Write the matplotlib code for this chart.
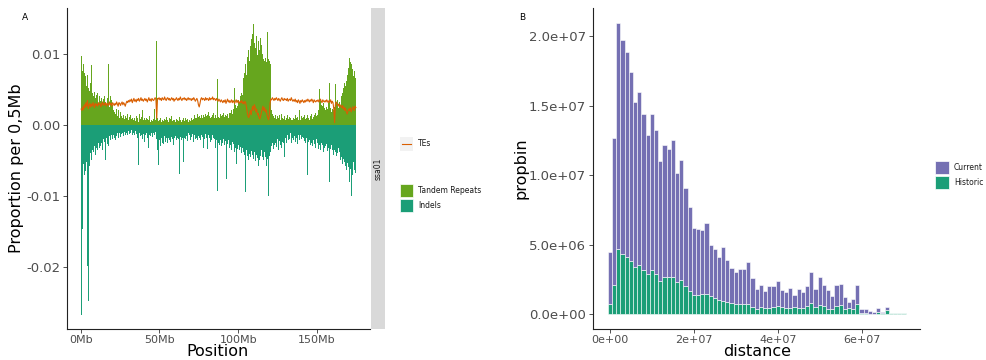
import numpy as np
import matplotlib
matplotlib.use('Agg')
import matplotlib.pyplot as plt
from matplotlib.patches import Rectangle
from matplotlib.lines import Line2D

W, H = 987, 360

# ---- panel A: proportion per 0.5Mb bin on ssa01 (units of 1e-4) ----
tandem = [
    97, 66, 76, 86, 72, 60, 68, 55, 70, 52,
    62, 48, 58, 84, 45, 50, 40, 46, 38, 42,
    35, 44, 30, 40, 47, 33, 38, 30, 36, 28,
    41, 32, 26, 38, 30, 85, 25, 40, 22, 35,
    28, 20, 18, 25, 15, 22, 12, 20, 16, 10,
    18, 12, 22, 9, 14, 8, 12, 6, 10, 15,
    7, 11, 5, 13, 8, 10, 6, 14, 9, 5,
    12, 7, 10, 4, 15, 8, 6, 11, 20, 7,
    9, 13, 6, 10, 8, 5, 7, 12, 4, 6,
    9, 5, 8, 22, 6, 7, 118, 10, 5, 8,
    6, 9, 4, 7, 10, 5, 8, 6, 11, 5,
    7, 4, 9, 6, 8, 12, 5, 7, 10, 6,
    4, 8, 6, 9, 5, 11, 7, 4, 8, 6,
    10, 5, 7, 9, 6, 8, 4, 12, 7, 5,
    9, 6, 11, 8, 14, 10, 13, 9, 15, 11,
    12, 16, 9, 14, 10, 13, 17, 11, 15, 12,
    10, 14, 18, 12, 9, 15, 11, 13, 16, 10,
    12, 14, 9, 64, 11, 13, 10, 15, 12, 9,
    14, 16, 11, 13, 18, 12, 15, 10, 17, 14,
    16, 20, 15, 25, 22, 52, 28, 24, 30, 27,
    35, 32, 40, 38, 45, 42, 66, 78, 72, 85,
    70, 95, 80, 105, 90, 110, 120, 100, 128, 141,
    115, 130, 108, 125, 98, 118, 135, 105, 122, 112,
    100, 95, 92, 90, 94, 88, 91, 130, 93, 89,
    92, 85, 20, 15, 12, 18, 10, 14, 8, 12,
    16, 9, 13, 7, 11, 15, 10, 8, 12, 14,
    6, 10, 13, 8, 5, 11, 9, 7, 12, 6,
    10, 8, 14, 5, 9, 11, 7, 20, 8, 6,
    12, 9, 7, 11, 13, 8, 10, 6, 14, 9,
    7, 12, 10, 15, 8, 11, 13, 9, 16, 12,
    14, 18, 20, 50, 35, 28, 22, 26, 30, 24,
    20, 28, 25, 22, 30, 26, 59, 24, 18, 22,
    142, 20, 25, 57, 30, 28, 35, 24, 32, 38,
    27, 40, 45, 52, 48, 58, 55, 62, 70, 75,
    80, 94, 88, 85, 72, 78, 68, 76, 70, 66,
]
indels = [
    268, 60, 146, 55, 70, 48, 65, 52, 198, 247,
    45, 58, 40, 50, 35, 44, 38, 30, 42, 33,
    28, 36, 25, 32, 22, 30, 26, 35, 20, 28,
    24, 50, 18, 27, 22, 30, 16, 21, 19, 14,
    20, 15, 18, 13, 22, 16, 12, 19, 15, 11,
    17, 13, 20, 12, 16, 10, 14, 18, 11, 15,
    9, 13, 16, 11, 8, 14, 12, 10, 15, 9,
    13, 11, 18, 57, 12, 16, 10, 14, 20, 13,
    24, 27, 15, 12, 18, 10, 32, 14, 16, 11,
    13, 17, 12, 15, 10, 14, 20, 35, 57, 28,
    22, 30, 18, 25, 20, 27, 16, 24, 19, 22,
    26, 18, 21, 15, 24, 17, 20, 28, 14, 19,
    16, 22, 18, 25, 20, 69, 17, 21, 15, 19,
    53, 18, 14, 20, 16, 23, 12, 18, 15, 21,
    17, 13, 19, 24, 15, 20, 14, 18, 22, 16,
    19, 15, 21, 14, 17, 32, 16, 20, 13, 18,
    22, 34, 15, 19, 24, 16, 21, 14, 18, 20,
    17, 32, 22, 93, 25, 19, 28, 21, 30, 24,
    26, 20, 29, 23, 31, 76, 27, 22, 33, 25,
    28, 35, 24, 30, 27, 38, 32, 55, 26, 34,
    29, 36, 31, 27, 40, 33, 38, 30, 42, 95,
    35, 44, 38, 50, 41, 46, 37, 52, 43, 48,
    39, 45, 51, 42, 47, 58, 40, 49, 44, 36,
    46, 41, 50, 38, 45, 58, 42, 48, 100, 44,
    84, 39, 30, 26, 34, 22, 29, 25, 31, 20,
    27, 35, 23, 28, 19, 32, 24, 26, 45, 21,
    18, 25, 14, 22, 17, 20, 12, 26, 15, 19,
    21, 16, 24, 13, 19, 27, 15, 22, 18, 14,
    20, 17, 25, 19, 23, 26, 18, 21, 71, 24,
    22, 28, 19, 25, 30, 21, 27, 24, 32, 20,
    26, 23, 34, 29, 36, 25, 31, 28, 38, 33,
    30, 35, 27, 37, 32, 40, 81, 34, 29, 36,
    31, 42, 35, 38, 44, 36, 40, 33, 39, 46,
    50, 45, 55, 48, 60, 52, 58, 63, 54, 66,
    59, 81, 62, 100, 57, 70, 52, 64, 48, 68,
]
tes = [
    22, 20, 25, 21, 28, 24, 31, 26, 34, 23,
    27, 30, 25, 29, 26, 31, 28, 24, 30, 27,
    29, 26, 31, 28, 30, 25, 29, 32, 27, 30,
    28, 31, 26, 30, 29, 27, 32, 28, 30, 26,
    31, 29, 27, 30, 28, 32, 29, 26, 31, 30,
    27, 30, 32, 28, 31, 29, 26, 30, 33, 31,
    34, 32, 35, 33, 36, 31, 34, 37, 33, 35,
    32, 36, 34, 37, 33, 35, 38, 34, 36, 33,
    35, 37, 34, 36, 32, 35, 38, 34, 36, 33,
    37, 35, 34, 36, 38, 35, 9, 37, 36, 38,
    35, 37, 34, 38, 36, 35, 39, 36, 34, 37,
    38, 35, 37, 34, 36, 38, 35, 37, 33, 36,
    35, 38, 36, 34, 37, 35, 39, 36, 34, 37,
    36, 38, 35, 37, 34, 36, 38, 35, 37, 36,
    34, 37, 35, 38, 36, 33, 35, 37, 34, 28,
    25, 30, 36, 38, 35, 37, 36, 34, 38, 35,
    37, 36, 34, 38, 35, 37, 36, 39, 35, 37,
    36, 34, 37, 35, 33, 36, 34, 32, 35, 33,
    31, 34, 32, 35, 30, 33, 36, 32, 34, 31,
    33, 35, 31, 34, 32, 30, 33, 35, 31, 34,
    32, 30, 33, 31, 34, 30, 32, 29, 33, 31,
    24, 18, 12, 10, 15, 20, 14, 22, 26, 20,
    28, 25, 18, 22, 14, 16, 10, 8, 12, 17,
    22, 26, 20, 24, 18, 21, 15, 10, 7, 12,
    30, 36, 35, 38, 36, 34, 37, 35, 38, 36,
    34, 37, 35, 33, 36, 38, 35, 34, 37, 35,
    36, 34, 37, 33, 35, 36, 34, 38, 35, 33,
    35, 33, 36, 32, 34, 31, 35, 33, 30, 34,
    32, 35, 33, 31, 34, 32, 35, 33, 36, 34,
    32, 35, 33, 36, 34, 31, 35, 33, 32, 34,
    33, 35, 32, 34, 36, 33, 31, 35, 33, 32,
    34, 32, 35, 33, 31, 34, 32, 35, 30, 33,
    31, 22, 3, 28, 32, 30, 27, 29, 25, 28,
    26, 24, 27, 22, 25, 20, 23, 18, 15, 19,
    22, 20, 24, 18, 21, 25, 23, 20, 26, 24,
]

# ---- panel B: distance bins of 1e6 (units of 1e6) ----
historic = [
    0.75, 2.10, 4.68, 4.35, 4.10, 3.82, 3.36, 3.50, 3.19, 2.90,
    3.20, 2.90, 2.40, 2.66, 2.64, 2.66, 2.28, 2.47, 2.00, 1.68,
    1.37, 1.37, 1.42, 1.46, 1.27, 1.13, 1.03, 0.96, 0.86, 0.80,
    0.72, 0.75, 0.75, 0.74, 0.50, 0.38, 0.50, 0.43, 0.46, 0.50,
    0.55, 0.48, 0.43, 0.46, 0.50, 0.43, 0.46, 0.55, 0.79, 0.50,
    0.67, 0.60, 0.36, 0.36, 0.55, 0.67, 0.38, 0.43, 0.38, 0.74,
    0.07, 0.07, 0.02, 0.02, 0.12, 0.05, 0.26, 0.05, 0.05, 0.05,
    0.05,
]
current = [
    3.69, 10.60, 16.32, 15.40, 14.78, 13.59, 11.91, 12.47, 11.22, 10.00,
    11.21, 10.33, 8.60, 9.52, 9.22, 9.85, 7.88, 8.63, 7.05, 6.03,
    4.85, 4.75, 4.61, 5.12, 3.68, 3.55, 3.05, 3.84, 3.04, 2.54,
    2.28, 2.49, 2.49, 3.03, 2.07, 1.42, 1.61, 1.25, 1.53, 1.49,
    1.83, 1.27, 1.18, 1.39, 0.84, 1.37, 1.10, 1.49, 2.21, 1.33,
    2.00, 1.49, 1.35, 0.91, 1.52, 1.49, 0.84, 0.46, 0.68, 1.33,
    0.27, 0.31, 0.17, 0.12, 0.34, 0.07, 0.22, 0.0, 0.0, 0.0,
    0.0,
]

fig = plt.figure(figsize=(W / 100, H / 100), dpi=100)


def px(x, y):
    return x / W, 1 - y / H


def box(x0, y0, x1, y1):
    return [x0 / W, 1 - y1 / H, (x1 - x0) / W, (y1 - y0) / H]


tick_col = '#4D4D4D'


def style(ax):
    for s in ['top', 'right']:
        ax.spines[s].set_visible(False)
    for s in ['left', 'bottom']:
        ax.spines[s].set_color('#222222')
        ax.spines[s].set_linewidth(0.8)
    ax.tick_params(length=3, width=0.6, color='#333333', labelcolor=tick_col)
    ax.tick_params(axis='x', pad=1.5)
    ax.tick_params(axis='y', pad=2)
    ax.set_facecolor('white')


# ---------- panel A ----------
ax1 = fig.add_axes(box(67, 8, 370, 329))
pos = np.arange(len(tandem)) * 0.5
ax1.bar(pos, np.array(tandem) * 1e-4, width=0.5, align='edge', color='#66A61E', linewidth=0)
ax1.bar(pos, -np.array(indels) * 1e-4, width=0.5, align='edge', color='#1B9E77', linewidth=0)
ax1.plot(pos + 0.25, np.array(tes) * 1e-4, color='#D95F02', lw=0.8)
ax1.set_xlim(-8.75, 183.75)
ax1.set_ylim(-0.0287, 0.0164)
ax1.set_xticks([0, 50, 100, 150])
ax1.set_xticklabels(['0Mb', '50Mb', '100Mb', '150Mb'], fontsize=8)
ax1.set_yticks([-0.02, -0.01, 0, 0.01])
ax1.set_yticklabels(['-0.02', '-0.01', '0.00', '0.01'], fontsize=9.5)
style(ax1)

# facet strip
axs = fig.add_axes(box(371, 8, 385, 329))
axs.set_facecolor('#D9D9D9')
axs.set_xticks([])
axs.set_yticks([])
for s in axs.spines.values():
    s.set_visible(False)
axs.text(0.5, 0.5, 'ssa01', rotation=90, ha='center', va='center',
         fontsize=5.5, color='#1A1A1A', transform=axs.transAxes)

fig.text(*px(17, 168), 'Proportion per 0,5Mb', rotation=90, ha='center', va='center', fontsize=11.5)
fig.text(*px(218, 352), 'Position', ha='center', va='center', fontsize=11.5)
fig.text(*px(25, 17), 'A', ha='center', va='center', fontsize=6.5)

# legend A
fig.patches.append(Rectangle(px(400, 151), 13 / W, 14 / H, transform=fig.transFigure,
                             facecolor='#F2F2F2', edgecolor='none'))
fig.lines.append(Line2D([402 / W, 411 / W], [1 - 144 / H, 1 - 144 / H], transform=fig.transFigure,
                        color='#D95F02', lw=0.8))
fig.text(*px(418, 144), 'TEs', va='center', fontsize=5.5, color='#1A1A1A')
for yy, col, lab in [(184, '#66A61E', 'Tandem Repeats'), (199, '#1B9E77', 'Indels')]:
    fig.patches.append(Rectangle(px(400, yy + 13), 13 / W, 13 / H, transform=fig.transFigure,
                                 facecolor=col, edgecolor='white', lw=0.5))
    fig.text(*px(418, yy + 6.5), lab, va='center', fontsize=5.5, color='#1A1A1A')

# ---------- panel B ----------
ax2 = fig.add_axes(box(593, 8, 920.5, 328.5))
xb = np.arange(len(historic)) * 1e6
hist_v = np.array(historic) * 1e6
cur_v = np.array(current) * 1e6
ax2.bar(xb, hist_v, width=1e6, color='#1B9E77', edgecolor='white', linewidth=0.4)
ax2.bar(xb, cur_v, width=1e6, bottom=hist_v, color='#7570B3', edgecolor='white', linewidth=0.4)
ax2.set_xlim(-4.05e6, 74.05e6)
ax2.set_ylim(-1.05e6, 22.05e6)
ax2.set_xticks([0, 2e7, 4e7, 6e7])
ax2.set_xticklabels(['0e+00', '2e+07', '4e+07', '6e+07'], fontsize=8)
ax2.set_yticks([0, 5e6, 1e7, 1.5e7, 2e7])
ax2.set_yticklabels(['0.0e+00', '5.0e+06', '1.0e+07', '1.5e+07', '2.0e+07'], fontsize=9.5)
style(ax2)

fig.text(*px(521, 168), 'propbin', rotation=90, ha='center', va='center', fontsize=11.5)
fig.text(*px(757, 352), 'distance', ha='center', va='center', fontsize=11.5)
fig.text(*px(522, 17), 'B', ha='center', va='center', fontsize=6.5)

for yy, col, lab in [(161, '#7570B3', 'Current'), (176, '#1B9E77', 'Historic')]:
    fig.patches.append(Rectangle(px(935, yy + 13), 14 / W, 13 / H, transform=fig.transFigure,
                                 facecolor=col, edgecolor='white', lw=0.5))
    fig.text(*px(954, yy + 6.5), lab, va='center', fontsize=5.5, color='#1A1A1A')

fig.savefig('out.png', dpi=100)
